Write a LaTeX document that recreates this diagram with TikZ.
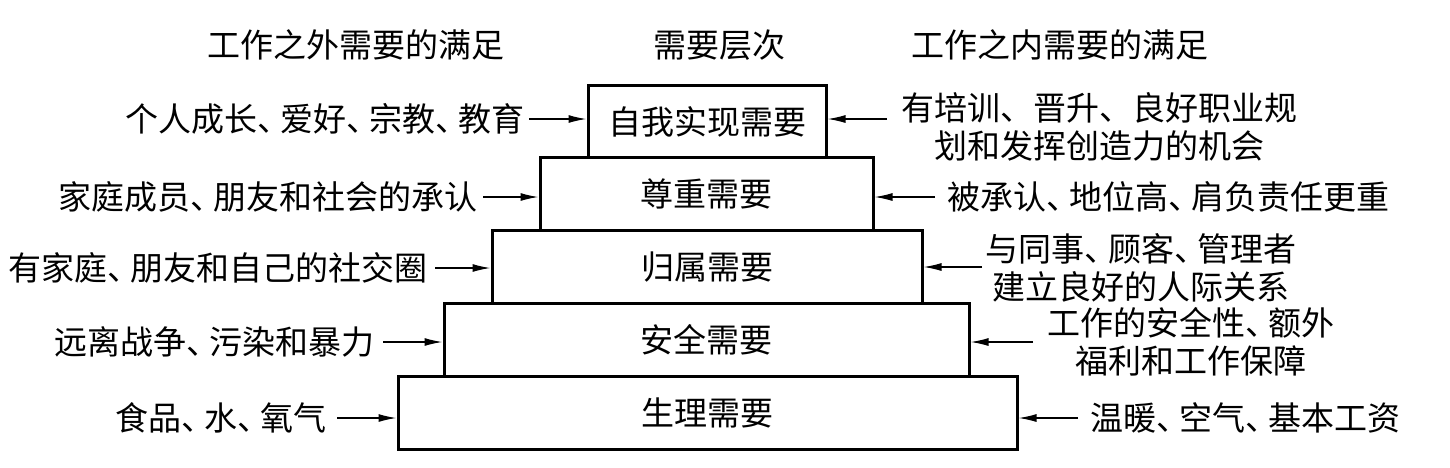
\documentclass[tikz,border=0pt]{standalone}
\usepackage{fontspec}
\newfontfamily\cjk{Noto Sans CJK SC}
\usetikzlibrary{arrows.meta}
\newcommand\dn{、\kern-0.3em}
\begin{document}
\begin{tikzpicture}[x=1pt,y=-1pt,
  every node/.style={font=\cjk\fontsize{33}{38}\selectfont, inner sep=0pt},
  tier/.style={draw, line width=3pt, minimum height=72.8pt},
  arr/.style={line width=1.4pt, -{Latex[length=18pt,width=8pt]}},
]
\useasboundingbox (0,0) rectangle (1450,467);
% headers
\node (h1) at (356,45) {工作之外需要的满足};
\node (h2) at (719,45) {需要层次};
\node (h3) at (1060,45) {工作之内需要的满足};
% tiers
\node[tier, minimum width=238pt] (b1) at (707,121.4) {自我实现需要};
\node[tier, minimum width=333pt] (b2) at (706.5,194.2) {尊重需要};
\node[tier, minimum width=430pt] (b3) at (707,267) {归属需要};
\node[tier, minimum width=525pt] (b4) at (706.5,339.8) {安全需要};
\node[tier, minimum width=619pt] (b5) at (707.5,412.6) {生理需要};
% left texts
\node[anchor=east] (l1) at (525,119) {个人成长\dn 爱好\dn 宗教\dn 教育};
\node[anchor=east] (l2) at (478,197) {家庭成员\dn 朋友和社会的承认};
\node[anchor=east] (l3) at (428,268) {有家庭\dn 朋友和自己的社交圈};
\node[anchor=east] (l4) at (375,342) {远离战争\dn 污染和暴力};
\node[anchor=east] (l5) at (327,418) {食品\dn 水\dn 氧气};
\draw[arr] ([xshift=4pt]l1.east) -- (l1.east -| b1.west);
\draw[arr] ([xshift=5pt]l2.east) -- (l2.east -| b2.west);
\draw[arr] ([xshift=7pt]l3.east) -- (l3.east -| b3.west);
\draw[arr] ([xshift=8pt]l4.east) -- (l4.east -| b4.west);
\draw[arr] ([xshift=10pt]l5.east) -- (l5.east -| b5.west);
% right texts
\node[align=center] (r1) at (1099,127) {有培训、晋升、良好职业规\\划和发挥创造力的机会};
\node[anchor=west] (r2) at (947,197) {被承认\dn 地位高\dn 肩负责任更重};
\node[align=center] (r3) at (1141,268) {与同事\dn 顾客\dn 管理者\\建立良好的人际关系};
\node[align=center] (r4) at (1191,342) {工作的安全性\dn 额外\\福利和工作保障};
\node[anchor=west] (r5) at (1090,418) {温暖\dn 空气\dn 基本工资};
\coordinate (ra1) at (887,119);
\coordinate (ra3) at (982,267);
\coordinate (ra4) at (1033,342);
\draw[arr] (ra1) -- (ra1 -| b1.east);
\draw[arr] ([xshift=-12pt]r2.west) -- (r2.west -| b2.east);
\draw[arr] (ra3) -- (ra3 -| b3.east);
\draw[arr] (ra4) -- (ra4 -| b4.east);
\draw[arr] ([xshift=-12pt]r5.west) -- (r5.west -| b5.east);
\end{tikzpicture}
\end{document}
